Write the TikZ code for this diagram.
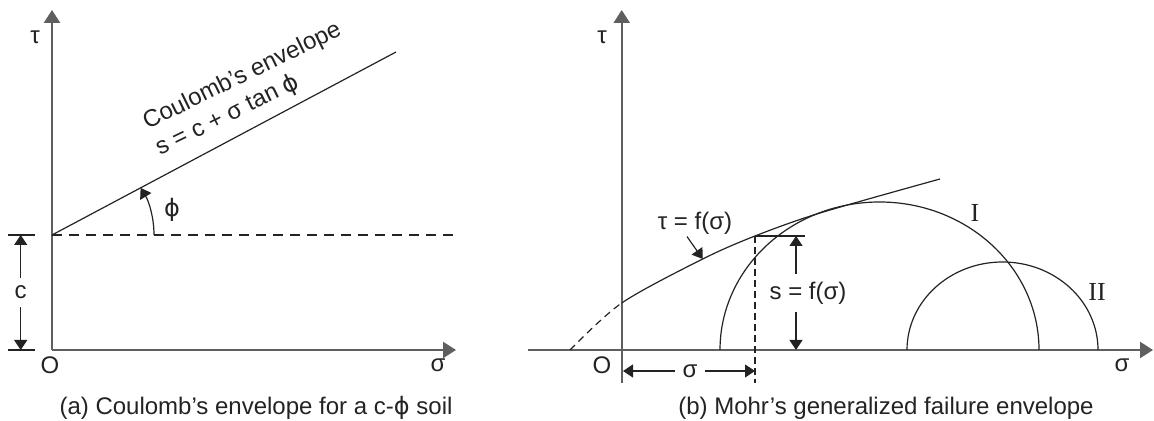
\documentclass[tikz,border=0pt]{standalone}
\usepackage{fontspec}
\setmainfont{Liberation Sans}
\newfontfamily\numeralfont{Liberation Serif}
\newfontfamily\phifont{DejaVu Sans}
\newcommand{\phisym}{{\phifont ϕ}}
\usepackage{xcolor}
\usetikzlibrary{calc,arrows.meta,positioning}
\definecolor{axisgray}{RGB}{95,95,95}
\definecolor{inkgray}{RGB}{35,35,35}
\tikzset{
  axisline/.style={axisgray, line width=1.2pt, -{Triangle[length=6.5pt,width=8pt]}},
  curveline/.style={inkgray, line width=0.6pt},
  dimarrow/.style={inkgray, line width=0.6pt, {Triangle[length=5pt,width=6.5pt]}-{Triangle[length=5pt,width=6.5pt]}},
  lbl/.style={text=inkgray, font=\fontsize{12}{14.5}\selectfont, inner sep=1pt},
  numlbl/.style={text=inkgray, font=\numeralfont\fontsize{13}{15}\selectfont, inner sep=1pt},
}

\begin{document}
\begin{tikzpicture}[x=0.5pt,y=0.5pt]
\useasboundingbox (0,0) rectangle (1154,421);
% (a) Coulomb's envelope
\coordinate (oa) at (52,71);
\coordinate (ca) at (52,186);
\coordinate (tautopa) at (52,411);
\coordinate (sigenda) at (456,71);
\coordinate (coulend) at (396,369);
\coordinate (dashend) at (458,186);
\draw[axisline] (oa) -- (tautopa);
\draw[axisline] (oa) -- (sigenda);
\draw[curveline] (ca) -- (coulend);
\draw[curveline, dash pattern=on 5pt off 3.5pt] (ca) -- (dashend);
\draw[curveline] (8,186) -- (35,186);
\draw[curveline] (8,71) -- (35,71);
\coordinate (ctop) at (20.7,186);
\coordinate (cbot) at (20.7,71);
\draw[dimarrow] (ctop) -- (cbot) node[lbl, midway, fill=white, inner ysep=4pt] (clbl) {c};
\draw[curveline, -{Triangle[length=5pt,width=6.5pt]}] (154,186) arc[start angle=0, end angle=29.7, x radius=102, y radius=95];
\node[lbl] (phia) at (172,211) {\phisym};
\node[lbl, rotate=26, anchor=west, align=left] (coulname) at (149,283) {Coulomb's envelope\\s = c + σ tan \phisym};
\node[lbl] (taua) at (35,384) {τ};
\node[lbl] (oalbl) at (50,56) {O};
\node[lbl] (siga) at (438,56) {σ};
\node[lbl] (capa) at (256,13) {(a) Coulomb's envelope for a c-\phisym\ soil};

% (b) Mohr's envelope
\coordinate (ob) at (621.7,71);
\coordinate (taubot) at (621.7,38);
\coordinate (tautopb) at (621.7,411);
\coordinate (sigstart) at (528,71);
\coordinate (sigendb) at (1153,71);
\draw[axisline] (taubot) -- (tautopb);
\draw[axisline] (sigstart) -- (sigendb);
\def\envcurve{plot[smooth] coordinates {(570,71) (621.7,118) (702.7,162) (755,185) (820,208) (940,242)}}
\begin{scope}
\clip (621.7,0) rectangle (1154,421);
\draw[curveline] \envcurve;
\end{scope}
\begin{scope}
\clip (0,0) rectangle (621.7,421);
\draw[curveline, dash pattern=on 3.5pt off 2.5pt] \envcurve;
\end{scope}
\draw[curveline] (720,71) arc[start angle=180, end angle=0, x radius=159.5, y radius=148];
\draw[curveline] (907,71) arc[start angle=180, end angle=0, x radius=95.5, y radius=88];
\coordinate (stop) at (755,185);
\coordinate (sfoot) at (755,38);
\coordinate (stick) at (805,185);
\draw[curveline, dash pattern=on 3.5pt off 2pt] (stop) -- (sfoot);
\draw[curveline] (stop) -- (stick);
\coordinate (sarrtop) at (796,185);
\coordinate (sarrbot) at (796,71);
\draw[dimarrow] (sarrtop) -- (sarrbot);
\node[lbl, fill=white, inner ysep=4pt] (slbl) at (808,128) {s = f(σ)};
\coordinate (sigl) at (623,50);
\coordinate (sigr) at (755,50);
\draw[dimarrow] (sigl) -- (sigr);
\node[lbl, fill=white, inner xsep=4pt] (sigdim) at (690,50) {σ};
\node[lbl] (envlbl) at (695,198) {τ = f(σ)};
\coordinate (envtip) at (702.7,162);
\draw[curveline, -{Triangle[length=5pt,width=6.5pt]}] ([xshift=-4pt]envlbl.south) -- (envtip);
\node[numlbl] (circi) at (975,208) {I};
\node[numlbl] (circii) at (1097,129) {II};
\node[lbl] (taub) at (602,384) {τ};
\node[lbl] (oblbl) at (602,56) {O};
\node[lbl] (sigb) at (1122,56) {σ};
\node[lbl] (capb) at (886,13) {(b) Mohr's generalized failure envelope};
\end{tikzpicture}
\end{document}
